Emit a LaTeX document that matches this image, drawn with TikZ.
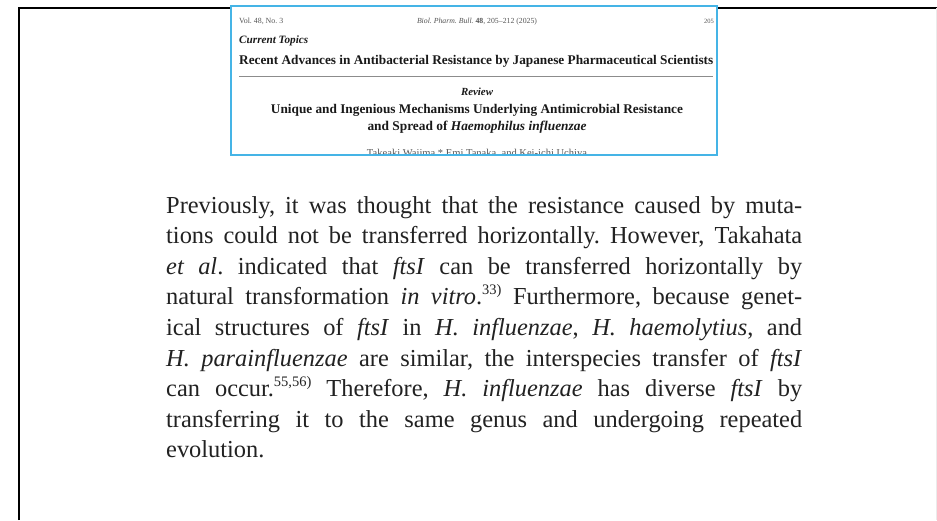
\documentclass[tikz,border=0pt]{standalone}
\usepackage{fontspec}
\setmainfont{Liberation Serif}
\frenchspacing
\definecolor{boxblue}{HTML}{45B4E6}
\definecolor{bodytext}{HTML}{222222}
\definecolor{smallgray}{HTML}{555555}
\tikzset{
  bodyline/.style={anchor=base west, inner sep=0pt, text=bodytext,
    font=\fontsize{24.4}{30}\selectfont},
  hdr/.style={inner sep=0pt, text=black!90},
}
\newcommand{\jl}[1]{\makebox[636pt][s]{#1}}
\newcommand{\refsup}[1]{\raisebox{0.42em}{\fontsize{14.5}{15}\selectfont #1}}
\begin{document}
\begin{tikzpicture}[x=1pt,y=-1pt]
\useasboundingbox (0,0) rectangle (937,520);
\fill[white] (0,0) rectangle (937,520);
% outer frame
\draw[line width=2pt, black] (19,520) -- (19,8) -- (937,8);
\draw[line width=0.8pt, black!8] (936,8) -- (936,520);
% header box
\fill[white] (231,6) rectangle (717,155);
\begin{scope}
\clip (231,6) rectangle (717,154);
\node[hdr, anchor=base west, text=smallgray] (vol) at (239,23) {\resizebox{44pt}{!}{Vol. 48, No. 3}};
\node[hdr, anchor=base, text=smallgray] (jr) at (477,23) {\resizebox{120pt}{!}{\textit{Biol. Pharm. Bull.} \textbf{48}, 205–212 (2025)}};
\node[hdr, anchor=base east, text=smallgray, font=\fontsize{6.5}{7}\selectfont] (pg) at (714,23) {205};
\node[hdr, anchor=base west] (ct) at (239,43) {\resizebox{69pt}{!}{\bfseries\itshape Current Topics}};
\node[hdr, anchor=base west] (ra) at (239,64) {\resizebox{474pt}{!}{\bfseries Recent Advances in Antibacterial Resistance by Japanese Pharmaceutical Scientists}};
\coordinate (rl) at (239,76);
\coordinate (rr) at (713,76);
\draw[line width=0.8pt, black!45] (rl) -- (rr);
\node[hdr, anchor=base] (rev) at (477,95) {\resizebox{32pt}{!}{\bfseries\itshape Review}};
\node[hdr, anchor=base] (t1) at (477,113) {\resizebox{412pt}{!}{\bfseries Unique and Ingenious Mechanisms Underlying Antimicrobial Resistance}};
\node[hdr, anchor=base] (t2) at (477,130) {\resizebox{219pt}{!}{\bfseries and Spread of \textit{Haemophilus influenzae}}};
\node[hdr, anchor=base, text=smallgray] (au) at (477,156) {\resizebox{220pt}{!}{Takeaki Waiima,* Emi Tanaka, and Kei-ichi Uchiya}};
\end{scope}
\draw[line width=2pt, boxblue] (231,6) rectangle (717,155);
% body text
\node[bodyline] (l1) at (166,213) {\jl{Previously, it was thought that the resistance caused by muta-}};
\node[bodyline] (l2) at (166,243.6) {\jl{tions could not be transferred horizontally. However, Takahata}};
\node[bodyline] (l3) at (166,274.2) {\jl{\textit{et al}. indicated that \textit{ftsI} can be transferred horizontally by}};
\node[bodyline] (l4) at (166,304.8) {\jl{natural transformation \textit{in vitro}.\refsup{33)} Furthermore, because genet-}};
\node[bodyline] (l5) at (166,335.4) {\jl{ical structures of \textit{ftsI} in \textit{H. influenzae}, \textit{H. haemolytius}, and}};
\node[bodyline] (l6) at (166,366) {\jl{\textit{H. parainfluenzae} are similar, the interspecies transfer of \textit{ftsI}}};
\node[bodyline] (l7) at (166,396.6) {\jl{can occur.\refsup{55,56)} Therefore, \textit{H. influenzae} has diverse \textit{ftsI} by}};
\node[bodyline] (l8) at (166,427.2) {\jl{transferring it to the same genus and undergoing repeated}};
\node[bodyline] (l9) at (166,457.8) {evolution.};
\end{tikzpicture}
\end{document}
